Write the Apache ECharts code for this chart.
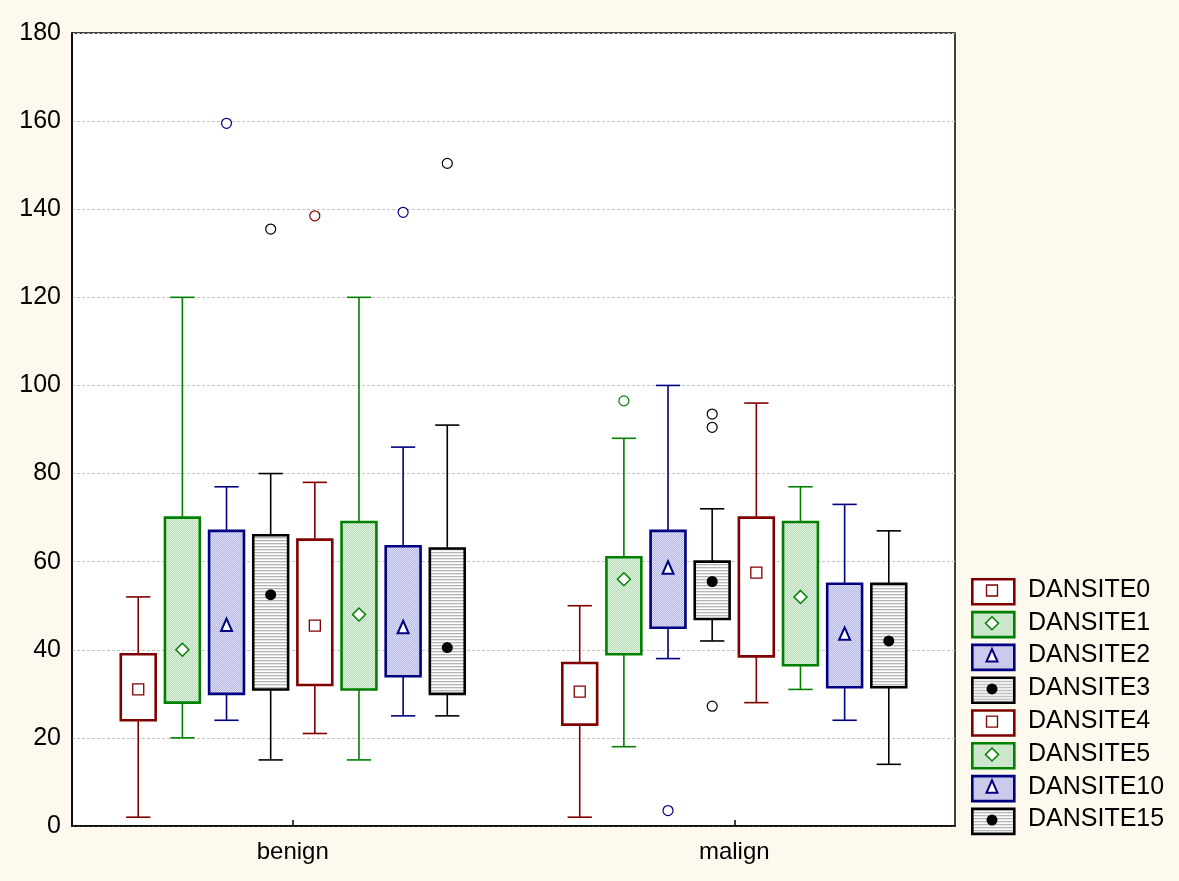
<!DOCTYPE html>
<html>
<head>
<meta charset="utf-8">
<script src="https://cdn.jsdelivr.net/npm/echarts@6/dist/echarts.min.js"></script>
<style>
html,body{margin:0;padding:0;background:#fdf9ee;}
#chart{width:1179px;height:881px;}
</style>
</head>
<body>
<div id="chart"></div>
<script>
// ---------- data ----------
const categories = ['benign', 'malign'];
const siteNames = ['DANSITE0', 'DANSITE1', 'DANSITE2', 'DANSITE3', 'DANSITE4', 'DANSITE5', 'DANSITE10', 'DANSITE15'];
const yTicks = [0, 20, 40, 60, 80, 100, 120, 140, 160, 180];
// each: [min, q1, median, q3, max] for benign, malign
const dansite0  = [[2, 24, 31, 39, 52], [2, 23, 30.5, 37, 50]];
const dansite1  = [[20, 28, 40, 70, 120], [18, 39, 56, 61, 88]];
const dansite2  = [[24, 30, 45.5, 67, 77], [38, 45, 58.5, 67, 100]];
const dansite3  = [[15, 31, 52.5, 66, 80], [42, 47, 55.5, 60, 72]];
const dansite4  = [[21, 32, 45.5, 65, 78], [28, 38.5, 57.5, 70, 96]];
const dansite5  = [[15, 31, 48, 69, 120], [31, 36.5, 52, 69, 77]];
const dansite10 = [[25, 34, 45, 63.5, 86], [24, 31.5, 43.5, 55, 73]];
const dansite15 = [[25, 30, 40.5, 63, 91], [14, 31.5, 42, 55, 67]];
// outliers: [categoryIndex, value]
const out0  = [];
const out1  = [[1, 96.5]];
const out2  = [[0, 159.5], [1, 3.5]];
const out3  = [[0, 135.5], [1, 93.5], [1, 90.5], [1, 27.2]];
const out4  = [[0, 138.5]];
const out5  = [];
const out10 = [[0, 139.3]];
const out15 = [[0, 150.4]];

const boxData = [dansite0, dansite1, dansite2, dansite3, dansite4, dansite5, dansite10, dansite15];
const outData = [out0, out1, out2, out3, out4, out5, out10, out15];

// ---------- styles ----------
const RED = '#800000', GREEN = '#008000', BLUE = '#000080', BLACK = '#000000';
function checker(c1, c2) {
  const cv = document.createElement('canvas');
  cv.width = 2; cv.height = 2;
  const ctx = cv.getContext('2d');
  ctx.fillStyle = c1; ctx.fillRect(0, 0, 2, 2);
  ctx.fillStyle = c2; ctx.fillRect(0, 0, 1, 1); ctx.fillRect(1, 1, 1, 1);
  return { image: cv, repeat: 'repeat' };
}
function stripes() {
  const cv = document.createElement('canvas');
  cv.width = 4; cv.height = 3;
  const ctx = cv.getContext('2d');
  ctx.fillStyle = '#ffffff'; ctx.fillRect(0, 0, 4, 3);
  ctx.fillStyle = '#b4b4b4'; ctx.fillRect(0, 0, 4, 1);
  ctx.fillStyle = '#e6e6e6'; ctx.fillRect(0, 1, 4, 1);
  return { image: cv, repeat: 'repeat' };
}
const greenFill = checker('#b6dbb6', '#e2f2e2');
const blueFill = checker('#b6b6e4', '#e0e0f5');
const stripeFill = stripes();
const styles = [
  { color: RED, fill: '#ffffff', marker: 'square' },
  { color: GREEN, fill: greenFill, marker: 'diamond' },
  { color: BLUE, fill: blueFill, marker: 'triangle' },
  { color: BLACK, fill: stripeFill, marker: 'dot' },
  { color: RED, fill: '#ffffff', marker: 'square' },
  { color: GREEN, fill: greenFill, marker: 'diamond' },
  { color: BLUE, fill: blueFill, marker: 'triangle' },
  { color: BLACK, fill: stripeFill, marker: 'dot' }
];

function markerShape(kind, color, x, y) {
  if (kind === 'square') {
    return { type: 'rect', shape: { x: x - 5.5, y: y - 5.5, width: 11, height: 11 },
      style: { fill: '#ffffff', stroke: color, lineWidth: 1.3 } };
  }
  if (kind === 'diamond') {
    return { type: 'polygon', shape: { points: [[x, y - 6.5], [x + 6.5, y], [x, y + 6.5], [x - 6.5, y]] },
      style: { fill: '#ffffff', stroke: color, lineWidth: 1.5 } };
  }
  if (kind === 'triangle') {
    return { type: 'polygon', shape: { points: [[x, y - 7], [x + 5.5, y + 5.5], [x - 5.5, y + 5.5]] },
      style: { fill: '#ffffff', stroke: color, lineWidth: 2 } };
  }
  return { type: 'circle', shape: { cx: x, cy: y, r: 5.5 }, style: { fill: color } };
}

const SPACING = 0.1, BOXW = 0.079, CAPW = 0.055;

function boxRender(si) {
  const st = styles[si];
  return function (params, api) {
    const cat = api.value(0);
    const band = api.size([1, 0])[0];
    const cx = api.coord([cat, 0])[0] + (si - 3.5) * band * SPACING;
    const yMin = api.coord([cat, api.value(1)])[1];
    const yQ1 = api.coord([cat, api.value(2)])[1];
    const yMed = api.coord([cat, api.value(3)])[1];
    const yQ3 = api.coord([cat, api.value(4)])[1];
    const yMax = api.coord([cat, api.value(5)])[1];
    const bw = band * BOXW, cw = band * CAPW;
    const ls = { stroke: st.color, lineWidth: 1.6 };
    return {
      type: 'group',
      children: [
        { type: 'line', shape: { x1: cx, y1: yMax, x2: cx, y2: yQ3 }, style: ls },
        { type: 'line', shape: { x1: cx, y1: yQ1, x2: cx, y2: yMin }, style: ls },
        { type: 'line', shape: { x1: cx - cw / 2, y1: yMax, x2: cx + cw / 2, y2: yMax }, style: ls },
        { type: 'line', shape: { x1: cx - cw / 2, y1: yMin, x2: cx + cw / 2, y2: yMin }, style: ls },
        { type: 'rect', shape: { x: cx - bw / 2, y: yQ3, width: bw, height: yQ1 - yQ3 },
          style: { fill: st.fill, stroke: st.color, lineWidth: 2.6 } },
        markerShape(st.marker, st.color, cx, yMed)
      ]
    };
  };
}
function outRender(si) {
  const st = styles[si];
  return function (params, api) {
    const cat = api.value(0);
    const band = api.size([1, 0])[0];
    const cx = api.coord([cat, 0])[0] + (si - 3.5) * band * SPACING;
    const y = api.coord([cat, api.value(1)])[1];
    return { type: 'circle', shape: { cx: cx, cy: y, r: 5 },
      style: { fill: '#ffffff', stroke: st.color, lineWidth: 1.2 } };
  };
}

const series = [];
boxData.forEach(function (d, si) {
  series.push({
    name: siteNames[si], type: 'custom', renderItem: boxRender(si),
    encode: { x: 0, y: [1, 2, 3, 4, 5] },
    data: d.map(function (b, ci) { return [ci].concat(b); }),
    z: 2
  });
  series.push({
    name: siteNames[si], type: 'custom', renderItem: outRender(si),
    encode: { x: 0, y: 1 },
    data: outData[si],
    z: 3
  });
});

// legend via graphic
const legendGraphics = [];
siteNames.forEach(function (name, i) {
  const st = styles[i];
  const top = 578 + i * 32.8;
  legendGraphics.push({ type: 'rect', left: 971, top: top, shape: { width: 42, height: 25 },
    style: { fill: st.fill, stroke: st.color, lineWidth: 2.6 } });
  legendGraphics.push(markerShape(st.marker, st.color, 992, top + 12.5));
  legendGraphics.push({ type: 'text', left: 1028, top: top + 12.5 - 13,
    style: { text: name, fill: '#000', font: '25px "Liberation Sans", Arial, sans-serif' } });
});

const chart = echarts.init(document.getElementById('chart'));
chart.setOption({
  backgroundColor: '#fdf9ee',
  animation: false,
  grid: { left: 72, right: 224, top: 33, bottom: 55, show: true, backgroundColor: '#ffffff',
    borderColor: '#000', borderWidth: 1.5 },
  xAxis: {
    type: 'category', data: categories,
    axisLine: { lineStyle: { color: '#000', width: 1.5 } },
    axisTick: { show: true, inside: true, alignWithLabel: true, length: 6, lineStyle: { color: '#000', width: 1.5 } },
    axisLabel: { color: '#000', fontSize: 24, fontFamily: '"Liberation Sans", Arial, sans-serif', margin: 14 },
    splitLine: { show: false }
  },
  yAxis: {
    type: 'value', min: yTicks[0], max: yTicks[yTicks.length - 1], interval: 20,
    axisLine: { show: true, lineStyle: { color: '#000', width: 1.5 } },
    axisTick: { show: false },
    axisLabel: { color: '#000', fontSize: 25, fontFamily: '"Liberation Sans", Arial, sans-serif', margin: 11,
      formatter: function (v) { return yTicks.indexOf(v) >= 0 ? String(v) : ''; } },
    splitLine: { show: true, lineStyle: { color: '#c4c4c4', type: [3, 2], width: 1 } }
  },
  graphic: legendGraphics,
  series: series
});
</script>
</body>
</html>
